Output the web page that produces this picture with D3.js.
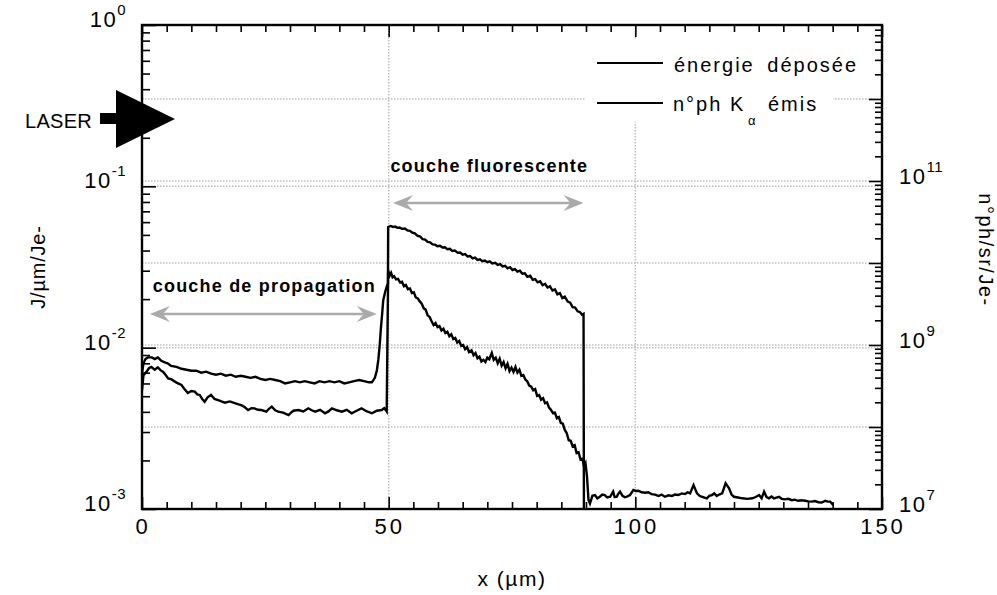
<!DOCTYPE html>
<html><head><meta charset="utf-8">
<script src="https://cdn.jsdelivr.net/npm/d3@7"></script>
<style>
body{margin:0;background:#fff}
svg{display:block}
text{font-family:"Liberation Sans",Arial,sans-serif;fill:#000}
</style>
</head><body>
<svg id="c" width="997" height="595"></svg>
<script>
// ---------- data ----------
const xTickValues = [0, 50, 100, 150];
const leftTickExps = [0, -1, -2, -3];
const rightTickExps = [7, 9, 11];
const seriesNames = ["énergie déposée", "n°ph K", "α", "émis"];

// énergie déposée (J/µm/Je-), left axis : [x µm, value]
const energy = [
[0,0.0069],[0.3,0.0080],[0.7,0.0085],[1.2,0.0087],[2.0,0.0087],[2.6,0.0085],[3.2,0.0087],[3.9,0.0083],
[4.6,0.0081],[5.2,0.0080],[5.9,0.0077],[7,0.0076],[8,0.0074],[9,0.0073],[10,0.0072],[11,0.0072],
[12,0.0070],[13,0.0071],[14,0.0069],[15,0.0068],[16,0.0069],[17,0.0067],[18,0.0068],[19,0.0066],
[20,0.0067],[21,0.0066],[22,0.0065],[23,0.0066],[24,0.0064],[25,0.0063],[26,0.0064],[27,0.0063],
[28,0.0062],[29,0.0060],[30,0.0061],[31,0.0062],[32,0.0061],[33,0.0062],[34,0.0061],[35,0.0060],
[36,0.0062],[37,0.0061],[38,0.0062],[39,0.0061],[40,0.0062],[41,0.0060],[42,0.0061],[43,0.0062],
[44,0.0063],[45,0.0062],[46,0.0061],[46.6,0.0061],[47.2,0.0065],[47.6,0.0072],[47.9,0.0084],
[48.2,0.0105],[48.4,0.0129],[48.7,0.0165],[48.9,0.0197],[49.3,0.0222],[49.6,0.0239],[49.85,0.0250],
[49.9,0.0560],[50.4,0.0568],[50.9,0.0560],[51.3,0.0563],[51.8,0.0553],[52.2,0.0556],[52.7,0.0545],
[53.3,0.0547],[53.8,0.0533],[54.3,0.0530],[54.8,0.0517],[55.3,0.0512],[55.8,0.0495],[56.4,0.0488],
[56.9,0.0470],[57.4,0.0468],[57.9,0.0452],[58.4,0.0450],[58.9,0.0437],[59.4,0.0435],[59.9,0.0425],
[60.4,0.0428],[60.9,0.0418],[61.4,0.0419],[61.9,0.0408],[62.4,0.0410],[62.9,0.0398],[63.4,0.0400],
[64.0,0.0388],[64.5,0.0389],[65.0,0.0377],[65.5,0.0380],[66.0,0.0368],[66.5,0.0370],[67.0,0.0358],
[67.5,0.0362],[68.0,0.0350],[68.5,0.0353],[69.0,0.0344],[69.5,0.0347],[70.0,0.0339],[70.5,0.0343],
[71.0,0.0333],[71.6,0.0336],[72.1,0.0326],[72.6,0.0330],[73.1,0.0319],[73.6,0.0322],[74.1,0.0310],
[74.6,0.0315],[75.1,0.0303],[75.6,0.0307],[76.1,0.0296],[76.6,0.0300],[77.1,0.0287],[77.6,0.0289],
[78.1,0.0275],[78.7,0.0279],[79.2,0.0263],[79.7,0.0266],[80.2,0.0254],[80.7,0.0258],[81.2,0.0244],
[81.7,0.0249],[82.2,0.0236],[82.7,0.0240],[83.2,0.0226],[83.7,0.0230],[84.2,0.0214],[84.7,0.0218],
[85.2,0.0203],[85.7,0.0207],[86.3,0.0193],[86.8,0.0190],[87.3,0.0178],[87.8,0.0177],[88.3,0.0168],
[88.8,0.0166],[89.2,0.0160],[89.5,0.0162],[89.6,0.0005]
];

// n°ph Kα émis (n°ph/sr/Je-), right axis : [x µm, value]
const photons = [
[0,2.8e8],[0.3,4.3e8],[0.9,4.7e8],[1.4,5.2e8],[1.9,5.4e8],[2.6,5.0e8],[3.2,5.35e8],[3.8,4.9e8],
[4.3,4.7e8],[4.8,4.3e8],[5.3,3.9e8],[6.0,3.8e8],[6.6,3.6e8],[7.3,3.4e8],[8.0,3.25e8],[8.6,2.9e8],
[9.3,2.6e8],[10.0,2.75e8],[10.7,2.7e8],[11.2,2.5e8],[11.7,2.46e8],[12.2,2.2e8],[12.7,2.03e8],
[13.3,2.3e8],[14.0,2.46e8],[14.7,2.2e8],[15.4,2.13e8],[16.1,2.05e8],[16.8,1.98e8],[17.8,2.05e8],
[18.8,1.95e8],[19.4,1.9e8],[20.1,1.85e8],[20.8,1.75e8],[21.5,1.61e8],[22.2,1.7e8],[22.8,1.69e8],
[23.5,1.62e8],[24.2,1.61e8],[25.2,1.54e8],[25.8,1.68e8],[26.3,1.77e8],[27.0,1.6e8],[27.6,1.54e8],
[28.6,1.5e8],[29.7,1.40e8],[30.2,1.5e8],[30.7,1.58e8],[31.7,1.61e8],[32.7,1.55e8],[33.7,1.69e8],
[34.4,1.6e8],[35.1,1.54e8],[36.1,1.62e8],[37.1,1.47e8],[37.8,1.55e8],[38.5,1.69e8],[39.5,1.6e8],
[40.5,1.54e8],[41.5,1.62e8],[42.5,1.47e8],[43.5,1.58e8],[44.5,1.69e8],[45.5,1.56e8],[46.6,1.47e8],
[47.6,1.58e8],[48.6,1.61e8],[49.1,1.7e8],[49.6,1.54e8],
[49.9,8.2e9],[50.2,7.0e9],[50.5,7.6e9],[50.8,6.7e9],[51.1,6.9e9],[51.5,6.3e9],[51.9,6.4e9],[52.3,5.8e9],
[52.7,5.9e9],[53.1,5.2e9],[53.5,5.4e9],[53.9,4.8e9],[54.3,4.9e9],[54.7,4.3e9],[55.1,4.4e9],[55.5,3.8e9],
[55.9,3.7e9],[56.3,3.4e9],[56.7,3.2e9],[57.1,2.8e9],[57.5,2.7e9],[57.9,2.3e9],[58.3,2.2e9],[58.7,1.95e9],
[59.1,1.75e9],[59.5,1.85e9],[59.9,1.65e9],[60.3,1.7e9],[60.7,1.5e9],[61.1,1.58e9],[61.5,1.4e9],
[61.9,1.45e9],[62.3,1.28e9],[62.7,1.35e9],[63.1,1.18e9],[63.5,1.22e9],[63.9,1.07e9],[64.3,1.12e9],
[64.7,9.8e8],[65.1,1.0e9],[65.5,8.9e8],[65.9,9.4e8],[66.3,8.2e8],[66.8,8.6e8],[67.2,7.5e8],[67.6,8.0e8],
[68.0,6.9e8],[68.4,7.2e8],[68.8,6.3e8],[69.2,6.6e8],[69.6,6.2e8],[70.0,7.0e8],[70.4,6.7e8],[70.9,8.0e8],
[71.3,6.6e8],[71.7,7.0e8],[72.1,6.0e8],[72.5,6.8e8],[72.9,5.6e8],[73.3,6.2e8],[73.7,5.2e8],[74.1,5.9e8],
[74.5,4.8e8],[74.9,5.3e8],[75.3,4.7e8],[75.7,5.4e8],[76.1,4.6e8],[76.5,5.0e8],[76.9,4.2e8],[77.3,4.3e8],
[77.7,3.8e8],[78.1,3.6e8],[78.5,3.2e8],[78.9,3.1e8],[79.3,2.8e8],[79.7,2.9e8],[80.1,2.4e8],[80.5,2.45e8],
[80.9,2.15e8],[81.3,2.25e8],[81.7,1.95e8],[82.1,2.0e8],[82.5,1.72e8],[82.9,1.62e8],[83.3,1.48e8],
[83.7,1.5e8],[84.1,1.28e8],[84.5,1.32e8],[84.9,1.12e8],[85.3,1.1e8],[85.7,9.2e7],[86.1,8.4e7],
[86.5,6.9e7],[86.9,6.8e7],[87.3,5.8e7],[87.7,6.0e7],[88.1,4.8e7],[88.5,4.9e7],[88.9,4.0e7],[89.3,4.1e7],
[89.6,3.3e7],[89.9,3.6e7],[90.2,2.5e7],[90.5,1.3e7],[90.8,1.17e7],
[91.3,1.45e7],[91.8,1.48e7],[92.3,1.35e7],[92.8,1.41e7],[93.3,1.5e7],[93.8,1.48e7],[94.3,1.38e7],
[94.9,1.41e7],[95.5,1.63e7],[95.8,1.4e7],[96.2,1.41e7],[96.6,1.55e7],[96.9,1.63e7],[97.4,1.45e7],
[97.9,1.39e7],[98.4,1.42e7],[98.9,1.48e7],[99.3,1.6e7],[99.6,1.71e7],[100.1,1.66e7],[100.6,1.67e7],
[101.3,1.6e7],[102.0,1.58e7],[102.6,1.6e7],[103.3,1.52e7],[104.0,1.5e7],[104.7,1.44e7],[105.3,1.5e7],
[106.0,1.41e7],[106.7,1.47e7],[107.4,1.44e7],[108.0,1.5e7],[108.7,1.48e7],[109.4,1.55e7],
[110.1,1.52e7],[110.6,1.6e7],[111.1,1.55e7],[111.8,1.96e7],[112.5,1.55e7],[113.0,1.45e7],
[113.5,1.41e7],[114.0,1.38e7],[114.5,1.35e7],[115.0,1.45e7],[115.5,1.48e7],[116.0,1.55e7],
[116.5,1.44e7],[117.0,1.5e7],[117.6,1.55e7],[118.3,2.06e7],[119.0,1.79e7],[119.5,1.5e7],
[120.0,1.41e7],[120.8,1.38e7],[121.7,1.35e7],[122.7,1.33e7],[123.7,1.35e7],[124.4,1.4e7],
[125.1,1.48e7],[125.6,1.35e7],[126.1,1.63e7],[126.6,1.4e7],[127.1,1.35e7],[127.6,1.42e7],
[128.1,1.35e7],[128.6,1.38e7],[129.1,1.41e7],[129.7,1.33e7],[130.3,1.31e7],[131.0,1.33e7],
[131.7,1.28e7],[132.3,1.3e7],[133.0,1.26e7],[133.7,1.28e7],[134.4,1.26e7],[135.1,1.24e7],
[135.8,1.23e7],[136.4,1.25e7],[137.1,1.21e7],[137.8,1.2e7],[138.5,1.26e7],[139.0,1.23e7],
[139.5,1.23e7],[140.1,1.12e7]
];

// layer annotations: [label, x start, x end] in µm
const layers = [["couche de propagation", 1.6, 47.6], ["couche fluorescente", 50.9, 89.5]];

// ---------- layout ----------
const L = 142, R = 882, T = 25, B = 509;
const svg = d3.select("#c");
const x = d3.scaleLinear().domain([0, 150]).range([L, R]);
const yL = d3.scaleLog().domain([1e-3, 1]).range([B, T]);
const yR = d3.scaleLog().domain([1e7, 1e13]).range([B, B - 6 * 82]);

// grid
const gridCol = "#bdbdbd";
const grid = svg.append("g").attr("stroke", gridCol).attr("stroke-width", 1.5).attr("stroke-dasharray", "1.5,1.5");
[50, 100].forEach(v => grid.append("line").attr("x1", x(v)).attr("x2", x(v)).attr("y1", T).attr("y2", B));
[0.1, 0.01].forEach(v => grid.append("line").attr("x1", L).attr("x2", R).attr("y1", yL(v)).attr("y2", yL(v)));
[1e8, 1e9, 1e10, 1e11, 1e12].forEach(v => grid.append("line").attr("x1", L).attr("x2", R).attr("y1", yR(v)).attr("y2", yR(v)));

// legend background
svg.append("rect").attr("x", 585).attr("y", 40).attr("width", 248).attr("height", 82).attr("fill", "#fff");

// clip
svg.append("clipPath").attr("id", "clip").append("rect").attr("x", L).attr("y", T).attr("width", R - L).attr("height", B - T);

const lineE = d3.line().x(d => x(d[0])).y(d => yL(d[1]));
const lineP = d3.line().x(d => x(d[0])).y(d => yR(d[1]));
const data = svg.append("g").attr("clip-path", "url(#clip)").attr("fill", "none").attr("stroke", "#000").attr("stroke-width", 2.4).attr("stroke-linejoin", "miter");
data.append("path").attr("d", lineE(energy));
data.append("path").attr("d", lineP(photons));

// axes ticks
function styleAxis(g) { g.select(".domain").remove(); g.selectAll(".tick line").attr("stroke", "#000").attr("stroke-width", 1.6); g.selectAll("text").remove(); }
const minorX = d3.range(0, 151, 5).filter(v => v % 50 !== 0);
svg.append("g").attr("transform", `translate(0,${B})`).call(d3.axisBottom(x).tickValues(xTickValues).tickSize(-12).tickSizeOuter(0)).call(styleAxis);
svg.append("g").attr("transform", `translate(0,${B})`).call(d3.axisBottom(x).tickValues(minorX).tickSize(-7).tickSizeOuter(0)).call(styleAxis);
svg.append("g").attr("transform", `translate(0,${T})`).call(d3.axisTop(x).tickValues(xTickValues).tickSize(-12).tickSizeOuter(0)).call(styleAxis);
svg.append("g").attr("transform", `translate(0,${T})`).call(d3.axisTop(x).tickValues(minorX).tickSize(-7).tickSizeOuter(0)).call(styleAxis);

const leftMajor = [1e-3, 1e-2, 1e-1, 1];
const leftMinor = [];
[-3, -2, -1].forEach(e => { for (let m = 2; m <= 9; m++) leftMinor.push(m * Math.pow(10, e)); });
svg.append("g").attr("transform", `translate(${L},0)`).call(d3.axisLeft(yL).tickValues(leftMajor).tickSize(-14).tickSizeOuter(0)).call(styleAxis);
svg.append("g").attr("transform", `translate(${L},0)`).call(d3.axisLeft(yL).tickValues(leftMinor).tickSize(-8).tickSizeOuter(0)).call(styleAxis);

const rightMajor = [1e7, 1e8, 1e9, 1e10, 1e11, 1e12];
const rightMinor = [];
[7, 8, 9, 10, 11, 12].forEach(e => { for (let m = 2; m <= 9; m++) { const v = m * Math.pow(10, e); if (yR(v) >= T) rightMinor.push(v); } });
svg.append("g").attr("transform", `translate(${R},0)`).call(d3.axisRight(yR).tickValues(rightMajor).tickSize(-13).tickSizeOuter(0)).call(styleAxis);
svg.append("g").attr("transform", `translate(${R},0)`).call(d3.axisRight(yR).tickValues(rightMinor).tickSize(-7).tickSizeOuter(0)).call(styleAxis);

// frame
svg.append("rect").attr("x", L).attr("y", T).attr("width", R - L).attr("height", B - T).attr("fill", "none").attr("stroke", "#000").attr("stroke-width", 2.4);

// tick labels
xTickValues.forEach(v => svg.append("text").attr("x", x(v) + 1).attr("y", B + 25).attr("text-anchor", "middle")
  .attr("font-size", 22).attr("letter-spacing", "3px").text(v));
function powLabel(xp, yp, exp, anchor) {
  const t = svg.append("text").attr("x", xp).attr("y", yp).attr("text-anchor", anchor).attr("font-size", 22).attr("letter-spacing", "1.5px");
  t.append("tspan").text("10");
  t.append("tspan").attr("dy", -12).attr("font-size", 15).attr("letter-spacing", "0.5px").text(exp);
}
leftTickExps.forEach(e => powLabel(126, yL(Math.pow(10, e)) + 2, e, "end"));
rightTickExps.forEach(e => powLabel(899, yR(Math.pow(10, e)) + 3, e, "start"));

// axis titles
svg.append("text").attr("x", (L + R) / 2).attr("y", 586).attr("text-anchor", "middle").attr("font-size", 21).attr("letter-spacing", "1.5px").text("x (µm)");
svg.append("text").attr("transform", `translate(45,${(T + B) / 2}) rotate(-90)`).attr("text-anchor", "middle").attr("font-size", 20).attr("letter-spacing", "0.8px").text("J/µm/Je-");
svg.append("text").attr("transform", `translate(979,250) rotate(90)`).attr("text-anchor", "middle").attr("font-size", 20).attr("letter-spacing", "1.5px").text("n°ph/sr/Je-");

// legend
const lg = svg.append("g");
lg.append("line").attr("x1", 597).attr("x2", 663).attr("y1", 63).attr("y2", 63).attr("stroke", "#000").attr("stroke-width", 1.8);
lg.append("line").attr("x1", 597).attr("x2", 663).attr("y1", 103).attr("y2", 103).attr("stroke", "#000").attr("stroke-width", 1.8);
lg.append("text").attr("x", 674).attr("y", 72).attr("font-size", 20).attr("letter-spacing", "2px").attr("word-spacing", "5px").text(seriesNames[0]);
lg.append("text").attr("x", 673).attr("y", 111).attr("font-size", 20).attr("letter-spacing", "2px").text(seriesNames[1]);
lg.append("text").attr("x", 748).attr("y", 125).attr("font-size", 13).text(seriesNames[2]);
lg.append("text").attr("x", 768).attr("y", 111).attr("font-size", 20).attr("letter-spacing", "2px").text(seriesNames[3]);

// layer annotations
const arrowCol = "#aaaaaa";
const annY = [[292, 314], [172, 203]];
layers.forEach((ly, i) => {
  const x0 = x(ly[1]), x1 = x(ly[2]), ya = annY[i][1];
  svg.append("text").attr("x", (x0 + x1) / 2 + 1).attr("y", annY[i][0]).attr("text-anchor", "middle")
    .attr("font-size", 18).attr("font-weight", "bold").attr("letter-spacing", "1.2px").text(ly[0]);
  svg.append("line").attr("x1", x0 + 6).attr("x2", x1 - 6).attr("y1", ya).attr("y2", ya).attr("stroke", arrowCol).attr("stroke-width", 2.5);
  svg.append("path").attr("d", `M${x0},${ya} L${x0 + 20},${ya - 8} L${x0 + 13},${ya} L${x0 + 20},${ya + 8} Z`).attr("fill", arrowCol);
  svg.append("path").attr("d", `M${x1},${ya} L${x1 - 20},${ya - 8} L${x1 - 13},${ya} L${x1 - 20},${ya + 8} Z`).attr("fill", arrowCol);
});

// LASER
svg.append("text").attr("x", 25).attr("y", 128).attr("font-size", 20).attr("letter-spacing", "0.3px").text("LASER");
svg.append("rect").attr("x", 100).attr("y", 113).attr("width", 18).attr("height", 11).attr("fill", "#000");
svg.append("path").attr("d", "M116,90 L175,119 L116,148 Z").attr("fill", "#000");
</script>
</body></html>
